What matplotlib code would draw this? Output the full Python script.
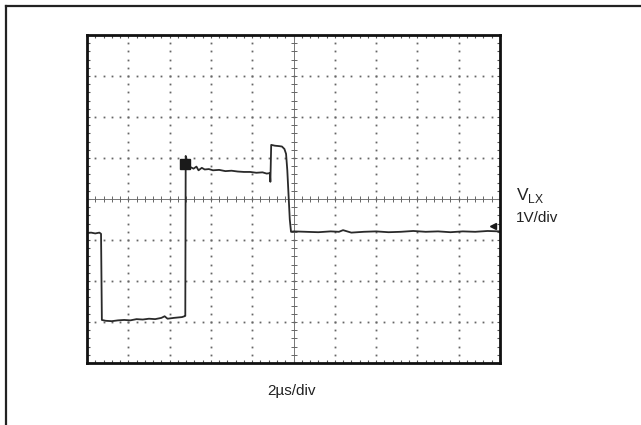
import numpy as np
import matplotlib
matplotlib.use("Agg")
import matplotlib.pyplot as plt

plt.rcParams['font.family'] = ['Liberation Sans', 'DejaVu Sans']
plt.rcParams['mathtext.fontset'] = 'custom'
plt.rcParams['mathtext.rm'] = 'Liberation Sans'

# trace, in divisions (x: 0..10, y: -4..4)
t_div = [0.0, 0.1, 0.2, 0.3, 0.34, 0.36,
         0.45, 0.6, 0.75, 0.9, 1.05, 1.2, 1.35, 1.5, 1.65, 1.8, 1.88, 1.95, 2.1, 2.2, 2.3, 2.36,
         2.38, 2.39, 2.42,
         2.5, 2.58, 2.65, 2.7, 2.78, 2.85, 2.95, 3.05, 3.2, 3.35, 3.5, 3.65, 3.8, 3.95, 4.1, 4.25, 4.35, 4.42,
         4.43, 4.44, 4.46,
         4.55, 4.65, 4.72, 4.78, 4.82, 4.85, 4.88, 4.91, 4.94,
         5.0, 5.3, 5.6, 5.9, 6.1, 6.2, 6.4, 6.7, 7.0, 7.3, 7.6, 7.9, 8.2, 8.5, 8.8, 9.1, 9.4, 9.7, 10.0]
v_div = [-0.83, -0.82, -0.84, -0.82, -0.85, -2.95,
         -2.97, -2.98, -2.96, -2.95, -2.96, -2.93, -2.94, -2.92, -2.93, -2.9, -2.86, -2.92, -2.9, -2.89, -2.88, -2.86,
         -2.85, 1.05, 0.8,
         0.78, 0.74, 0.79, 0.7, 0.76, 0.72, 0.73, 0.7, 0.71, 0.68, 0.69, 0.67, 0.66, 0.66, 0.64, 0.65, 0.62, 0.63,
         0.6, 0.42, 1.32,
         1.3, 1.29, 1.28, 1.22, 1.1, 0.7, 0.1, -0.5, -0.8,
         -0.79, -0.8, -0.81, -0.79, -0.8, -0.76, -0.82, -0.8, -0.79, -0.81, -0.8, -0.78, -0.8, -0.79, -0.81, -0.79, -0.8, -0.78, -0.79]

trigger_mark = (2.38, 0.85)
ground_mark = (9.84, -0.66)

x_label = '2µs/div'
y_name = r'V$_{\rm LX}$'
y_scale = '1V/div'

fig = plt.figure(figsize=(6.41, 4.25), dpi=100)

# outer frame: only top and left edges are drawn
fig.add_artist(plt.Line2D([5.5 / 641, 5.5 / 641], [0, 1 - 5.5 / 425], color='#222222', lw=1.6))
fig.add_artist(plt.Line2D([5.5 / 641, 1], [1 - 5.5 / 425, 1 - 5.5 / 425], color='#222222', lw=1.6))

ax = fig.add_axes([87 / 641, 62 / 425, 413 / 641, 328 / 425])
ax.set_xlim(0, 10)
ax.set_ylim(-4, 4)
for s in ax.spines.values():
    s.set_linewidth(2.0)
    s.set_color('#111111')

ax.set_xticks(np.arange(0, 10.01, 0.2), minor=True)
ax.set_yticks(np.arange(-4, 4.01, 0.2), minor=True)
ax.set_xticks([])
ax.set_yticks([])
ax.tick_params(which='minor', direction='in', length=2.5, width=0.8, color='#555555',
               top=True, right=True, labelbottom=False, labelleft=False)

# dotted graticule
fine_x = np.arange(0, 10.01, 0.2)
fine_y = np.arange(-4, 4.01, 0.2)
for k in range(1, 10):
    if k == 5:
        continue
    ax.plot(np.full_like(fine_y, k), fine_y, ls='none', marker='s', ms=1.3, color='#666666', mew=0)
for k in range(-3, 4):
    if k == 0:
        continue
    ax.plot(fine_x, np.full_like(fine_x, k), ls='none', marker='s', ms=1.3, color='#666666', mew=0)

# center cross with tick marks
ax.axhline(0, color='#777777', lw=0.7)
ax.axvline(5, color='#777777', lw=0.7)
ax.plot(fine_x, np.zeros_like(fine_x), ls='none', marker='|', ms=4, mew=0.7, color='#666666')
ax.plot(np.full_like(fine_y, 5), fine_y, ls='none', marker='_', ms=4, mew=0.7, color='#666666')

# trace
ax.plot(t_div, v_div, color='#2a2a2a', lw=1.3)
ax.plot(*trigger_mark, marker='s', ms=7, color='#1a1a1a')
ax.plot(*ground_mark, marker='<', ms=5, color='#1a1a1a')

fig.text(516 / 641, 1 - 186 / 425, y_name, fontsize=12.5, va='top', ha='left', color='#222222')
fig.text(516 / 641, 1 - 211 / 425, y_scale, fontsize=11, va='top', ha='left', color='#222222')
fig.text(292 / 641, 1 - 391 / 425, x_label, fontsize=11, va='center', ha='center', color='#222222')

fig.savefig('out.png', dpi=100)
